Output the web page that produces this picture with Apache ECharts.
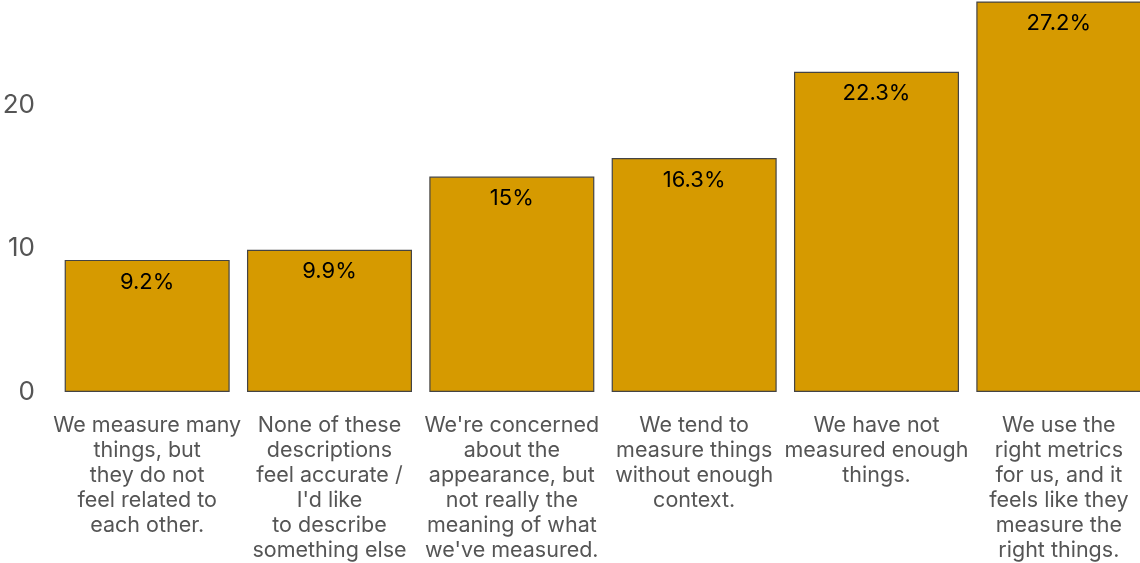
<!DOCTYPE html>
<html>
<head>
<meta charset="utf-8">
<style>
  html, body { margin: 0; padding: 0; background: #fff; }
  #chart { width: 1140px; height: 563px; }
</style>
<script src="https://cdn.jsdelivr.net/npm/echarts@6/dist/echarts.min.js"></script>
</head>
<body>
<div id="chart"></div>
<script>
// Survey answers (wrapped as they appear under the bars)
const categories = [
  "We measure many\nthings, but\nthey do not\nfeel related to\neach other.",
  "None of these\ndescriptions\nfeel accurate /\nI'd like\nto describe\nsomething else",
  "We're concerned\nabout the\nappearance, but\nnot really the\nmeaning of what\nwe've measured.",
  "We tend to\nmeasure things\nwithout enough\ncontext.",
  "We have not\nmeasured enough\nthings.",
  "We use the\nright metrics\nfor us, and it\nfeels like they\nmeasure the\nright things."
];

// Share of respondents, percent
const shares = [9.2, 9.9, 15, 16.3, 22.3, 27.2];

// Value axis ticks
const yTicks = [0, 10, 20];

const FONT = "Inter, 'Noto Sans', sans-serif";

const chart = echarts.init(document.getElementById('chart'));
chart.setOption({
  animation: false,
  grid: { left: 56, width: 1094, top: 0, bottom: 171, outerBoundsMode: 'none', containLabel: false },
  xAxis: {
    type: 'category',
    data: categories,
    axisLine: { show: false },
    axisTick: { show: false },
    axisLabel: {
      interval: 0,
      margin: 21,
      color: '#555',
      fontFamily: FONT,
      fontSize: 21.5,
      lineHeight: 25,
      align: 'center'
    }
  },
  yAxis: {
    type: 'value',
    min: 0,
    max: 27.3,
    interval: 10,
    splitLine: { show: false },
    axisLine: { show: false },
    axisTick: { show: false },
    axisLabel: {
      showMaxLabel: false,
      margin: 21,
      color: '#555',
      fontFamily: FONT,
      fontSize: 26,
      formatter: v => (yTicks.includes(v) ? String(v) : '')
    }
  },
  series: [{
    type: 'bar',
    data: shares,
    barCategoryGap: '9.5%',
    itemStyle: {
      color: '#D69A00',
      borderColor: '#444',
      borderWidth: 1.2
    },
    label: {
      show: true,
      position: 'insideTop',
      distance: 11,
      color: '#000',
      fontFamily: FONT,
      fontSize: 22,
      formatter: p => p.value + '%'
    }
  }]
});
</script>
</body>
</html>
